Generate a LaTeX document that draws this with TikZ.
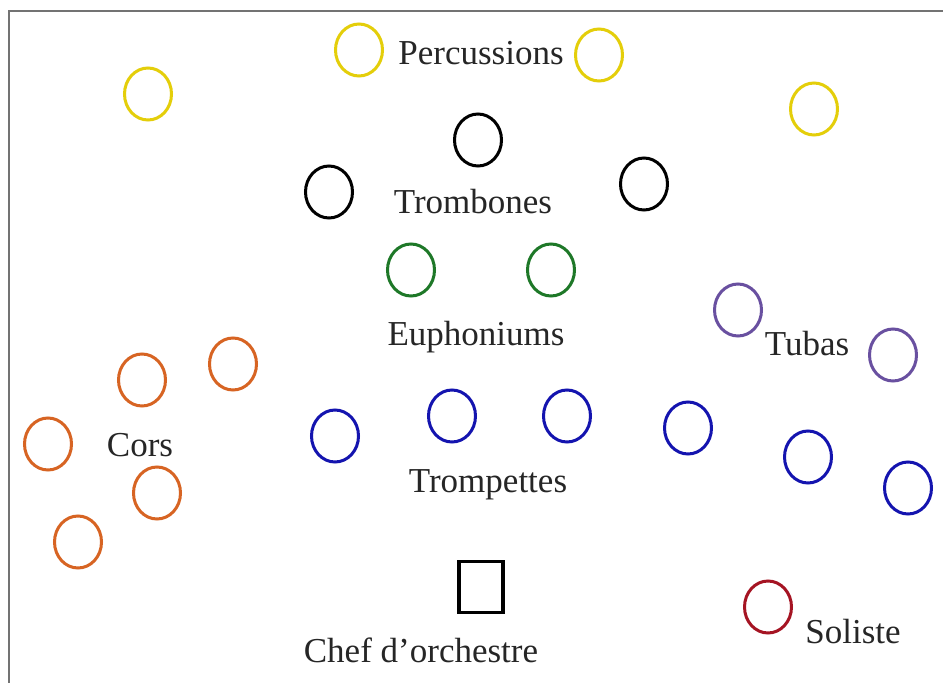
\documentclass[tikz,border=0pt]{standalone}
\usepackage{fontspec}
\setmainfont{Liberation Serif}
\usetikzlibrary{shapes.geometric}
\definecolor{cyel}{RGB}{228,206,10}
\definecolor{cgrn}{RGB}{30,120,40}
\definecolor{cpur}{RGB}{105,80,160}
\definecolor{corg}{RGB}{215,100,35}
\definecolor{cblu}{RGB}{20,20,175}
\definecolor{cred}{RGB}{165,20,35}
\definecolor{cbrd}{RGB}{115,115,115}
\tikzset{
  seat/.style={ellipse,draw=#1,line width=3pt,minimum width=47pt,minimum height=52pt,inner sep=0pt},
  lbl/.style={anchor=base,inner sep=0pt,text=black!85,font=\fontsize{35}{42}\selectfont}
}
\begin{document}
\begin{tikzpicture}[x=1pt,y=-1pt]
\useasboundingbox[fill=white] (0,0) rectangle (943,683);
\coordinate (bl) at (9,683);
\coordinate (tl) at (9,11);
\coordinate (tr) at (943,11);
\draw[cbrd,line width=1.5pt] (bl) -- (tl) -- (tr);
% Percussions
\node[seat=cyel] (p1) at (148,94) {};
\node[seat=cyel] (p2) at (359,50) {};
\node[seat=cyel] (p3) at (599,55) {};
\node[seat=cyel] (p4) at (814,109) {};
\node[lbl] (lp) at (481,64) {Percussions};
% Trombones
\node[seat=black] (t1) at (478,140) {};
\node[seat=black] (t2) at (329,192) {};
\node[seat=black] (t3) at (644,184) {};
\node[lbl] (lt) at (473,213) {Trombones};
% Euphoniums
\node[seat=cgrn] (e1) at (411,270) {};
\node[seat=cgrn] (e2) at (551,270) {};
\node[lbl] (le) at (476,345) {Euphoniums};
% Tubas
\node[seat=cpur] (u1) at (738,310) {};
\node[seat=cpur] (u2) at (893,355) {};
\node[lbl] (lu) at (807,355) {Tubas};
% Cors
\node[seat=corg] (c1) at (233,364) {};
\node[seat=corg] (c2) at (142,380) {};
\node[seat=corg] (c3) at (48,444) {};
\node[seat=corg] (c4) at (157,493) {};
\node[seat=corg] (c5) at (78,542) {};
\node[lbl] (lc) at (140,456) {Cors};
% Trompettes
\node[seat=cblu] (r1) at (335,436) {};
\node[seat=cblu] (r2) at (452,416) {};
\node[seat=cblu] (r3) at (567,416) {};
\node[seat=cblu] (r4) at (688,428) {};
\node[seat=cblu] (r5) at (808,457) {};
\node[seat=cblu] (r6) at (908,488) {};
\node[lbl] (lr) at (488,492) {Trompettes};
% Chef
\node[draw=black,line width=3.5pt,minimum width=44pt,minimum height=51pt,inner sep=0pt] (chef) at (481,587) {};
\node[lbl] (lch) at (421,662) {Chef d’orchestre};
% Soliste
\node[seat=cred] (s1) at (768,607) {};
\node[lbl] (ls) at (853,643) {Soliste};
\end{tikzpicture}
\end{document}
